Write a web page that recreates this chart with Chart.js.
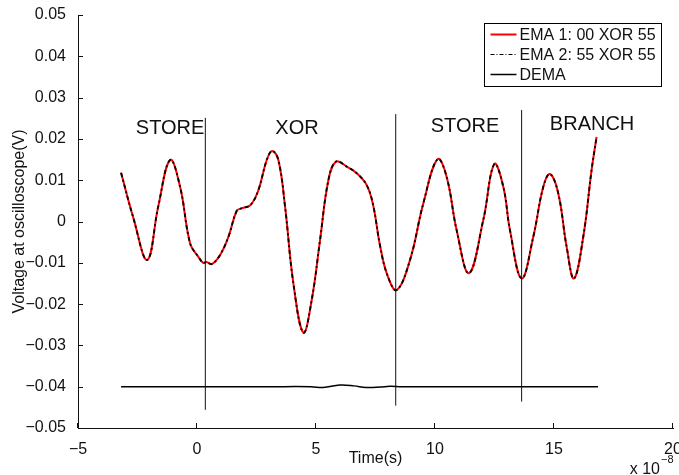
<!DOCTYPE html>
<html>
<head>
<meta charset="utf-8">
<title>EMA / DEMA oscilloscope</title>
<script src="https://cdn.jsdelivr.net/npm/chart.js@4/dist/chart.umd.min.js"></script>
<style>
    html, body { margin: 0; padding: 0; background: #fff; }
</style>
</head>
<body>
<canvas id="scopeCanvas" width="679" height="475"></canvas>
<script>
// time axis is in units of 1e-8 s
const emaTime = [-3.19, -2.68, -2.09, -1.63, -1.13, -0.71, -0.29, 0.05, 0.26, 0.40, 0.62, 0.97, 1.32, 1.67, 1.88, 2.25,
    2.58, 2.93, 3.16, 3.42, 3.70, 4.05, 4.47, 4.82, 5.17, 5.52, 5.84, 6.29, 6.71, 7.13, 7.40, 7.69, 8.00, 8.39,
    8.95, 9.51, 10.11, 10.49, 10.91, 11.43, 12.03, 12.49, 12.87, 13.15, 13.64, 14.13, 14.55, 14.83, 15.18, 15.53,
    15.84, 16.23, 16.58, 16.79];
const ema1Voltage = [0.0118, 0.0010, -0.0093, 0.0036, 0.0149, 0.0084, -0.0053, -0.0085, -0.0100, -0.0098, -0.0103, -0.0081,
    -0.0037, 0.0026, 0.0032, 0.0040, 0.0076, 0.0149, 0.0171, 0.0149, 0.0036, -0.0150, -0.0269, -0.0190, -0.0045,
    0.0100, 0.0145, 0.0133, 0.0117, 0.0088, 0.0040, -0.0058, -0.0130, -0.0166, -0.0093, 0.0044, 0.0151, 0.0108,
    -0.0021, -0.0125, 0.0004, 0.0139, 0.0084, -0.0021, -0.0138, -0.0037, 0.0084, 0.0115, 0.0068, -0.0061,
    -0.0138, -0.0037, 0.0125, 0.0205];
// EMA 2 sits right on top of EMA 1 in the plot
const ema2Voltage = ema1Voltage.slice();

const demaTime = [-3.19, 0.35, 3.0, 4.8, 5.3, 6.0, 6.6, 7.1, 7.7, 8.1, 8.6, 10.0, 13.64, 16.85];
const demaVoltage = [-0.0400, -0.0400, -0.0400, -0.0400, -0.0402, -0.0396, -0.0398, -0.0402, -0.0401, -0.0399, -0.0400,
    -0.0400, -0.0400, -0.0400];

// vertical instruction boundaries
const boundaryTime = [0.35, 8.35, 13.64];
const boundaryTop = [0.0251, 0.0260, 0.0270];
const boundaryBottom = [-0.0456, -0.0446, -0.0436];

const phaseNames = ['STORE', 'XOR', 'STORE', 'BRANCH'];
const phaseTime = [-1.13, 4.20, 11.26, 16.60];
const phaseVoltage = [0.0226, 0.0226, 0.0231, 0.0236];

const xTicks = [-5, 0, 5, 10, 15, 20];
const yTicks = [-0.05, -0.04, -0.03, -0.02, -0.01, 0, 0.01, 0.02, 0.03, 0.04, 0.05];

const legendNames = ['EMA 1: 00 XOR 55', 'EMA 2: 55 XOR 55', 'DEMA'];

const FONT = "'Liberation Sans', Arial, Helvetica, sans-serif";
const INK = '#111';

function toPoints(xs, ys) {
    return xs.map((x, i) => ({ x: x, y: ys[i] }));
}

function formatVolt(v) {
    const r = Math.round(v * 100) / 100;
    if (r === 0) return '0';
    return (r < 0 ? '\u2212' : '') + Math.abs(r).toFixed(2);
}

function formatTime(v) {
    return v < 0 ? '\u2212' + Math.abs(v) : String(v);
}

// MATLAB-ish decorations: inward ticks, phase labels, legend box, exponent
const scopeDecor = {
    id: 'scopeDecor',
    afterDraw(chart) {
        const ctx = chart.ctx;
        const area = chart.chartArea;
        const xs = chart.scales.x;
        const ys = chart.scales.y;

        ctx.save();
        ctx.strokeStyle = INK;
        ctx.lineWidth = 1;
        ctx.beginPath();
        yTicks.forEach(v => {
            const py = Math.round(ys.getPixelForValue(v)) + 0.5;
            ctx.moveTo(area.left, py);
            ctx.lineTo(area.left + 5, py);
        });
        xTicks.forEach(v => {
            const px = Math.round(xs.getPixelForValue(v)) - 0.5;
            ctx.moveTo(px, area.bottom);
            ctx.lineTo(px, area.bottom - 5);
        });
        ctx.stroke();

        // phase names
        ctx.fillStyle = INK;
        ctx.font = '20px ' + FONT;
        ctx.textAlign = 'center';
        ctx.textBaseline = 'middle';
        phaseNames.forEach((name, i) => {
            ctx.fillText(name, xs.getPixelForValue(phaseTime[i]), ys.getPixelForValue(phaseVoltage[i]));
        });

        // legend
        const boxW = 177, boxH = 63;
        const bx = area.right - 12 - boxW + 0.5;
        const by = area.top + 8 + 0.5;
        ctx.fillStyle = '#fff';
        ctx.fillRect(bx, by, boxW, boxH);
        ctx.strokeStyle = '#000';
        ctx.strokeRect(bx, by, boxW, boxH);

        const styles = [
            { color: '#ff0000', width: 2, dash: [] },
            { color: '#000', width: 1.2, dash: [4, 2, 1, 2] },
            { color: '#000', width: 1.5, dash: [] }
        ];
        ctx.font = '16px ' + FONT;
        ctx.textAlign = 'left';
        legendNames.forEach((name, i) => {
            const ry = by + 11 + i * 20;
            ctx.beginPath();
            ctx.strokeStyle = styles[i].color;
            ctx.lineWidth = styles[i].width;
            ctx.setLineDash(styles[i].dash);
            ctx.moveTo(bx + 6, ry);
            ctx.lineTo(bx + 32, ry);
            ctx.stroke();
            ctx.setLineDash([]);
            ctx.fillStyle = INK;
            ctx.fillText(name, bx + 35, ry + 1);
        });

        // x 10^-8 exponent
        ctx.fillStyle = INK;
        ctx.textBaseline = 'alphabetic';
        ctx.textAlign = 'right';
        ctx.font = '16px ' + FONT;
        ctx.fillText('x 10', 660, 474);
        ctx.textAlign = 'left';
        ctx.font = '11px ' + FONT;
        ctx.fillText('\u22128', 661, 463);
        ctx.restore();
    }
};

function buildDatasets() {
    const sets = [
        {
            label: legendNames[0],
            data: toPoints(emaTime, ema1Voltage),
            borderColor: '#ff0000',
            borderWidth: 2,
            order: 5
        },
        {
            label: legendNames[1],
            data: toPoints(emaTime, ema2Voltage),
            borderColor: '#000',
            borderWidth: 1.8,
            borderDash: [4, 3, 2, 3],
            order: 4
        },
        {
            label: legendNames[2],
            data: toPoints(demaTime, demaVoltage),
            borderColor: '#000',
            borderWidth: 1.5,
            order: 3
        }
    ];
    boundaryTime.forEach((t, i) => {
        sets.push({
            label: 'boundary ' + i,
            data: [{ x: t, y: boundaryBottom[i] }, { x: t, y: boundaryTop[i] }],
            borderColor: '#111',
            borderWidth: 1,
            tension: 0,
            order: 1
        });
    });
    return sets;
}

function drawScope() {
    const ctx = document.getElementById('scopeCanvas').getContext('2d');
    Chart.defaults.font.family = FONT;
    Chart.defaults.color = INK;

    new Chart(ctx, {
        type: 'line',
        data: { datasets: buildDatasets() },
        options: {
            responsive: false,
            animation: false,
            layout: { padding: { left: 0, right: 6, top: 15, bottom: 0 } },
            elements: {
                point: { radius: 0, hoverRadius: 0 },
                line: { tension: 0.4, fill: false }
            },
            plugins: {
                legend: { display: false },
                tooltip: { enabled: false }
            },
            scales: {
                x: {
                    type: 'linear',
                    min: -5,
                    max: 20,
                    grid: { display: false },
                    border: { display: true, color: INK, width: 1 },
                    afterBuildTicks: scale => { scale.ticks = xTicks.map(v => ({ value: v })); },
                    afterFit: scale => {
                        scale.height = 47;
                        scale.paddingLeft = 0; scale.paddingRight = 0;
                    },
                    ticks: {
                        autoSkip: false,
                        maxRotation: 0,
                        padding: 4,
                        font: { size: 16 },
                        callback: v => formatTime(v)
                    },
                    title: {
                        display: true,
                        text: 'Time(s)',
                        font: { size: 16, lineHeight: 1.2 },
                        padding: { top: 0, bottom: 7 }
                    }
                },
                y: {
                    type: 'linear',
                    min: -0.05,
                    max: 0.05,
                    grid: { display: false },
                    border: { display: true, color: INK, width: 1 },
                    afterBuildTicks: scale => { scale.ticks = yTicks.map(v => ({ value: v })); },
                    afterFit: scale => {
                        scale.width = 78;
                        scale.paddingTop = 0; scale.paddingBottom = 0;
                    },
                    ticks: {
                        autoSkip: false,
                        padding: 4,
                        font: { size: 16 },
                        callback: v => formatVolt(v)
                    },
                    title: {
                        display: true,
                        text: 'Voltage at oscilloscope(V)',
                        font: { size: 16, lineHeight: 1.2 },
                        padding: { top: 10, bottom: 0 }
                    }
                }
            }
        },
        plugins: [scopeDecor]
    });
}

document.addEventListener('DOMContentLoaded', drawScope);
</script>
</body>
</html>
